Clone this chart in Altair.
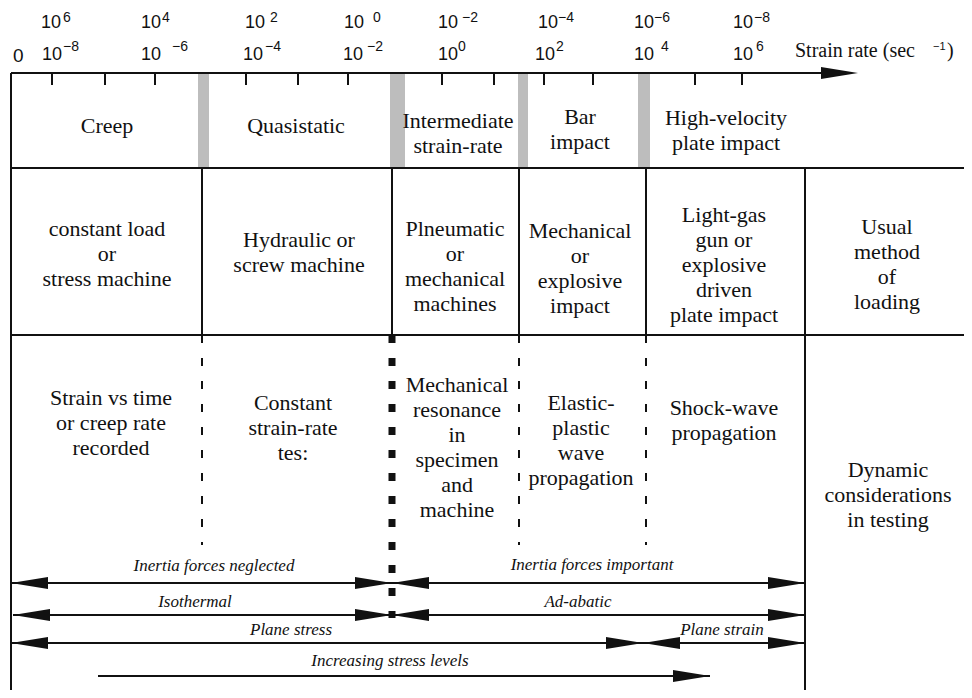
import altair as alt
import pandas as pd

# ---------------- diagram values (units = reference pixels) ----------------
# strain-rate axis
AXIS_Y = 73
AXIS_X0, AXIS_END, AXIS_TIP = 11, 822, 858
TICK_X = [52, 105, 155, 246, 298, 348, 442, 494, 544, 593, 695, 742]

# time labels (top row) and strain-rate labels (second row): 10^exp
TOP_EXP = ["6", "4", "2", "0", "−2", "−4", "−6", "−8"]
TOP_BASE_X = [41, 141, 245, 344, 438, 538, 634, 733]
TOP_EXP_X = [63, 162, 270, 373, 462, 558, 654, 754]
BOT_EXP = ["−8", "−6", "−4", "−2", "0", "2", "4", "6"]
BOT_BASE_X = [42, 141, 243, 343, 438, 535, 634, 733]
BOT_EXP_X = [63, 172, 265, 367, 458, 556, 661, 756]

# grey regime separators
BAR_X0 = [198, 390, 518, 638]
BAR_X1 = [209, 405, 528, 650]
BAR_Y0, BAR_Y1 = 73, 168

# table grid
ROW_Y = [168, 335]
COL_X = [202, 392, 519, 646]
RIGHT_X = 805
DASH_Y1 = 545
THICK_DASH_Y1 = 618
EDGE_X, EDGE_Y = 964, 690

# regime names
ROW1_TEXT = ["Creep", "Quasistatic", "Intermediate\nstrain-rate", "Bar\nimpact",
             "High-velocity\nplate impact"]
ROW1_X = [107, 296, 458, 580, 726]
ROW1_Y = [126, 126, 133.5, 129, 130.5]

# usual method of loading
ROW2_TEXT = ["constant load\nor\nstress machine", "Hydraulic or\nscrew machine",
             "Plneumatic\nor\nmechanical\nmachines", "Mechanical\nor\nexplosive\nimpact",
             "Light-gas\ngun  or\nexplosive\ndriven\nplate impact",
             "Usual\nmethod\nof\nloading"]
ROW2_X = [107, 299, 455, 580, 724, 887]
ROW2_Y = [254, 252.5, 266, 268.5, 265, 264.5]

# dynamic considerations
ROW3_TEXT = ["Strain vs time\nor creep rate\nrecorded", "Constant\nstrain-rate\ntes:",
             "Mechanical\nresonance\nin\nspecimen\nand\nmachine",
             "Elastic-\nplastic\nwave\npropagation", "Shock-wave\npropagation",
             "Dynamic\nconsiderations\nin testing"]
ROW3_X = [111, 293, 457, 581, 724, 888]
ROW3_Y = [422.5, 427.5, 447, 440, 420.5, 495]

# bottom arrows
ARROW_Y = [583, 615, 643, 676]
ARROW_X0 = [11, 13, 11, 98]
ARROW_X1 = [805, 805, 805, 710]
LEFT_TIP_X = [11, 392, 13, 392, 11, 643]
LEFT_TIP_Y = [583, 583, 615, 615, 643, 643]
RIGHT_TIP_X = [392, 805, 392, 805, 643, 805, 710, AXIS_TIP]
RIGHT_TIP_Y = [583, 583, 615, 615, 643, 643, 676, AXIS_Y]

ARROW_LABELS = ["Inertia forces neglected", "Inertia forces important", "Isothermal",
                "Ad-abatic", "Plane stress", "Plane strain", "Increasing stress levels"]
ARROW_LABEL_X = [214, 592, 195, 578, 291, 722, 390]
ARROW_LABEL_Y = [566, 565, 602, 602, 630, 630, 661]

# ---------------- tables ----------------
def explode(texts, xs, ys, spacing=25):
    rows = []
    for t, x, y in zip(texts, xs, ys):
        lines = t.split("\n")
        n = len(lines)
        for i, line in enumerate(lines):
            rows.append({"x": x, "y": y + (i - (n - 1) / 2) * spacing, "t": line})
    return pd.DataFrame(rows)

body_text = pd.concat([explode(ROW1_TEXT, ROW1_X, ROW1_Y),
                       explode(ROW2_TEXT, ROW2_X, ROW2_Y),
                       explode(ROW3_TEXT, ROW3_X, ROW3_Y)], ignore_index=True)

solid = []
solid.append({"x0": AXIS_X0, "x1": AXIS_END, "y0": AXIS_Y, "y1": AXIS_Y})
solid.append({"x0": AXIS_X0, "x1": AXIS_X0, "y0": AXIS_Y, "y1": EDGE_Y})
for ry in ROW_Y:
    solid.append({"x0": AXIS_X0, "x1": EDGE_X, "y0": ry, "y1": ry})
for cx in COL_X:
    solid.append({"x0": cx, "x1": cx, "y0": ROW_Y[0], "y1": ROW_Y[1]})
solid.append({"x0": RIGHT_X, "x1": RIGHT_X, "y0": ROW_Y[0], "y1": EDGE_Y})
for y, a, b in zip(ARROW_Y, ARROW_X0, ARROW_X1):
    solid.append({"x0": a, "x1": b, "y0": y, "y1": y})
solid = pd.DataFrame(solid)

thin_dash = pd.DataFrame({"x": [COL_X[0], COL_X[2], COL_X[3]],
                          "y0": [ROW_Y[1]] * 3, "y1": [DASH_Y1] * 3})
thick_dash = pd.DataFrame({"x": [COL_X[1]], "y0": [ROW_Y[1]], "y1": [THICK_DASH_Y1]})
ticks = pd.DataFrame({"x": TICK_X, "y0": AXIS_Y, "y1": AXIS_Y + 12})
bars = pd.DataFrame({"x0": BAR_X0, "x1": BAR_X1, "y0": BAR_Y0, "y1": BAR_Y1})
left_tips = pd.DataFrame({"x": LEFT_TIP_X, "y": LEFT_TIP_Y})
right_tips = pd.DataFrame({"x": RIGHT_TIP_X, "y": RIGHT_TIP_Y})
arrow_labels = pd.DataFrame({"x": ARROW_LABEL_X, "y": ARROW_LABEL_Y, "t": ARROW_LABELS})

bases = pd.DataFrame({"x": TOP_BASE_X + BOT_BASE_X,
                      "y": [23] * len(TOP_BASE_X) + [54.5] * len(BOT_BASE_X),
                      "t": ["10"] * (len(TOP_BASE_X) + len(BOT_BASE_X))})
exps = pd.DataFrame({"x": TOP_EXP_X + BOT_EXP_X,
                     "y": [18] * len(TOP_EXP_X) + [47] * len(BOT_EXP_X),
                     "t": TOP_EXP + BOT_EXP})
zero_lbl = pd.DataFrame({"x": [13], "y": [55.5], "t": ["0"]})
unit_lbl = pd.DataFrame({"x": [795], "y": [51], "t": ["Strain rate (sec"]})
unit_exp = pd.DataFrame({"x": [933], "y": [47], "t": ["−1"]})
unit_close = pd.DataFrame({"x": [947], "y": [51], "t": [")"]})

# ---------------- chart ----------------
XS = alt.Scale(domain=[8, 964], nice=False, zero=False)
YS = alt.Scale(domain=[8, 690], nice=False, zero=False, reverse=True)

SERIF = "Liberation Serif, Times New Roman, Times, DejaVu Serif, serif"
SANS = "Liberation Sans, Arial, Helvetica, sans-serif"
INK = "#111111"


def ex(f):
    return alt.X(f"{f}:Q", scale=XS, axis=None)


def ey(f):
    return alt.Y(f"{f}:Q", scale=YS, axis=None)


bar_layer = alt.Chart(bars).mark_rect(color="#bdbdbd").encode(
    x=ex("x0"), x2="x1:Q", y=ey("y0"), y2="y1:Q")

solid_layer = alt.Chart(solid).mark_rule(color=INK, strokeWidth=2).encode(
    x=ex("x0"), x2="x1:Q", y=ey("y0"), y2="y1:Q")

tick_layer = alt.Chart(ticks).mark_rule(color=INK, strokeWidth=2).encode(
    x=ex("x"), y=ey("y0"), y2="y1:Q")

thin_dash_layer = alt.Chart(thin_dash).mark_rule(
    color=INK, strokeWidth=2, strokeDash=[8, 15]).encode(
    x=ex("x"), y=ey("y0"), y2="y1:Q")

thick_dash_layer = alt.Chart(thick_dash).mark_rule(
    color=INK, strokeWidth=7, strokeDash=[8, 15]).encode(
    x=ex("x"), y=ey("y0"), y2="y1:Q")

left_head = alt.Chart(left_tips).mark_point(
    shape="M0,0L2,-0.32L2,0.32Z", size=1369, filled=True, color=INK,
    opacity=1, strokeWidth=0).encode(x=ex("x"), y=ey("y"))

right_head = alt.Chart(right_tips).mark_point(
    shape="M0,0L-2,-0.32L-2,0.32Z", size=1369, filled=True, color=INK,
    opacity=1, strokeWidth=0).encode(x=ex("x"), y=ey("y"))

body_layer = alt.Chart(body_text).mark_text(
    font=SERIF, fontSize=22, color=INK, align="center",
    baseline="middle").encode(x=ex("x"), y=ey("y"), text="t:N")

arrow_text_layer = alt.Chart(arrow_labels).mark_text(
    font=SERIF, fontSize=17, fontStyle="italic", color=INK,
    align="center", baseline="middle").encode(x=ex("x"), y=ey("y"), text="t:N")

base_layer = alt.Chart(bases).mark_text(
    font=SANS, fontSize=18, color=INK, align="left",
    baseline="middle").encode(x=ex("x"), y=ey("y"), text="t:N")

exp_layer = alt.Chart(exps).mark_text(
    font=SANS, fontSize=14, color=INK, align="left",
    baseline="middle").encode(x=ex("x"), y=ey("y"), text="t:N")

zero_layer = alt.Chart(zero_lbl).mark_text(
    font=SANS, fontSize=19, color=INK, align="left",
    baseline="middle").encode(x=ex("x"), y=ey("y"), text="t:N")

unit_layer = alt.Chart(unit_lbl).mark_text(
    font=SERIF, fontSize=20, color=INK, align="left",
    baseline="middle").encode(x=ex("x"), y=ey("y"), text="t:N")

unit_exp_layer = alt.Chart(unit_exp).mark_text(
    font=SANS, fontSize=11, color=INK, align="left",
    baseline="middle").encode(x=ex("x"), y=ey("y"), text="t:N")

unit_close_layer = alt.Chart(unit_close).mark_text(
    font=SERIF, fontSize=20, color=INK, align="left",
    baseline="middle").encode(x=ex("x"), y=ey("y"), text="t:N")

chart = alt.layer(
    bar_layer, solid_layer, tick_layer, thin_dash_layer, thick_dash_layer,
    left_head, right_head, body_layer, arrow_text_layer, base_layer, exp_layer,
    zero_layer, unit_layer, unit_exp_layer, unit_close_layer
).properties(
    width=956, height=682, padding=0, background="white",
    autosize=alt.AutoSizeParams(type="none")
).configure_view(stroke=None)

chart.save("out.html", embed_options={"renderer": "svg", "actions": False})
